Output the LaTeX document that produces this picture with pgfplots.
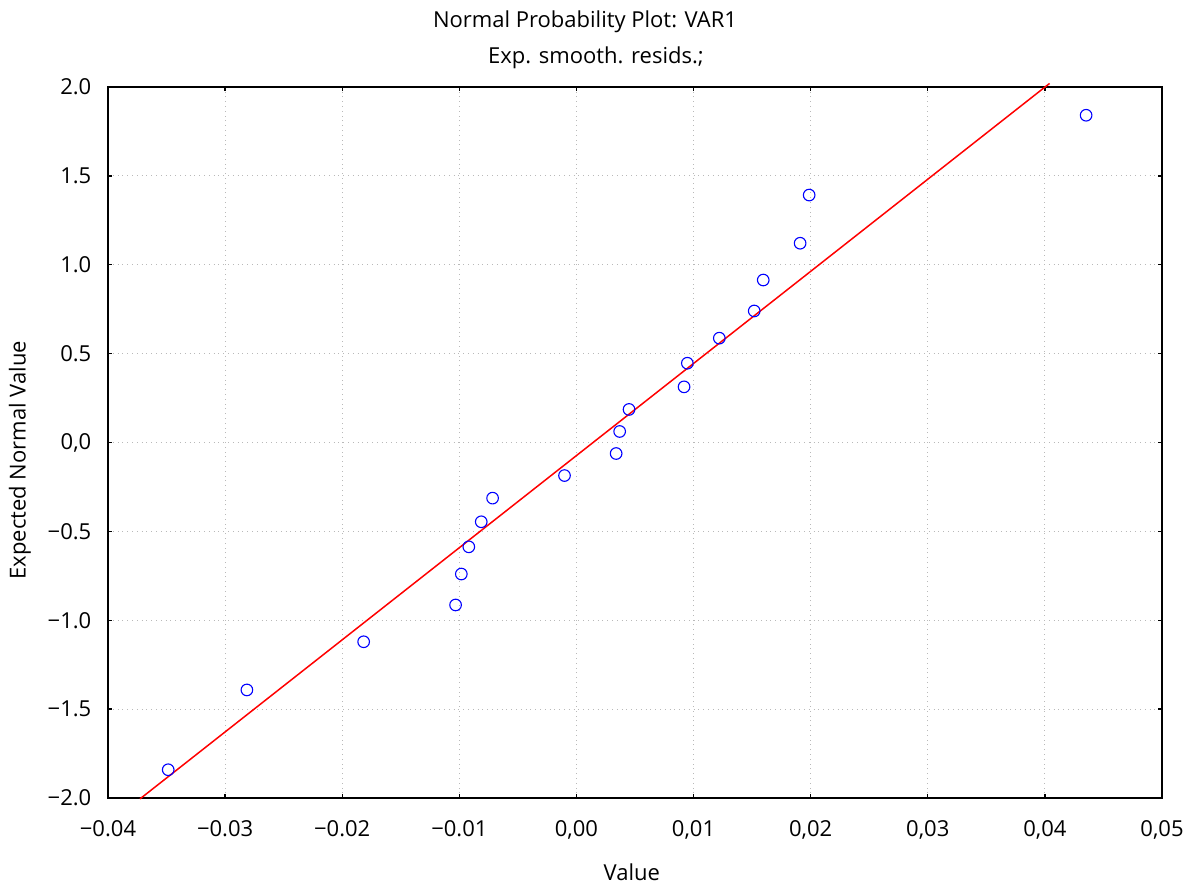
\documentclass[border=0pt]{standalone}
\usepackage{pgfplots}
\pgfplotsset{compat=1.18}
\usepackage{fontspec}
\setmainfont{Open Sans}
\begin{document}
\fontsize{11}{13}\selectfont
\begin{tikzpicture}
\begin{axis}[
  scale only axis,
  width=527pt, height=355.5pt,
  xmin=-0.04, xmax=0.05, ymin=-2, ymax=2,
  xtick={-0.04,-0.03,-0.02,-0.01,0,0.01,0.02,0.03,0.04,0.05},
  xticklabels={−0.04,−0.03,−0.02,−0.01,{0,00},{0,01},{0,02},{0,03},{0,04},{0,05}},
  ytick={-2,-1.5,-1,-0.5,0,0.5,1,1.5,2},
  yticklabels={−2.0,−1.5,−1.0,−0.5,{0,0},0.5,1.0,1.5,2.0},
  scaled x ticks=false,
  tick align=inside,
  major tick length=2.2pt,
  every tick/.style={black, line width=0.7pt},
  axis line style={line width=0.9pt},
  grid=major,
  major grid style={gray!55, dotted, line width=0.5pt},
  xticklabel style={yshift=-7.5pt},
  yticklabel style={xshift=-4.5pt},
  xlabel={Value},
  ylabel={Expected Normal Value},
  xlabel style={at={(rel axis cs:0.497,-0.105)}, anchor=center},
  ylabel style={at={(rel axis cs:-0.0835,0.475)}, anchor=center, rotate=0},
  clip=false,
]
\addplot[red, line width=0.75pt] coordinates {(-0.03727,-2.005) (0.0404,2.02)};
\addplot[only marks, mark=o, mark size=2.9pt, blue, mark options={line width=0.55pt}] coordinates {
(-0.03486,-1.841)
(-0.02814,-1.392)
(-0.01817,-1.121)
(-0.01032,-0.914)
(-0.00983,-0.740)
(-0.00919,-0.587)
(-0.00813,-0.446)
(-0.00716,-0.313)
(-0.00102,-0.186)
(0.00339,-0.062)
(0.00369,0.062)
(0.00449,0.186)
(0.00919,0.313)
(0.00947,0.446)
(0.01220,0.587)
(0.01518,0.740)
(0.01595,0.914)
(0.01910,1.121)
(0.01987,1.392)
(0.04352,1.841)
};
\coordinate (sw) at (rel axis cs:0,0);
\coordinate (ne) at (rel axis cs:1,1);
\node at (rel axis cs:0.4526,1.0914) {Normal Probability Plot: VAR1};
\node at (rel axis cs:0.463,1.0408) {Exp. smooth. resids.;};
\end{axis}
\pgfresetboundingbox
\path[use as bounding box] ([shift={(-54pt,-44pt)}]sw) rectangle ([shift={(15pt,43.5pt)}]ne);
\end{tikzpicture}
\end{document}
